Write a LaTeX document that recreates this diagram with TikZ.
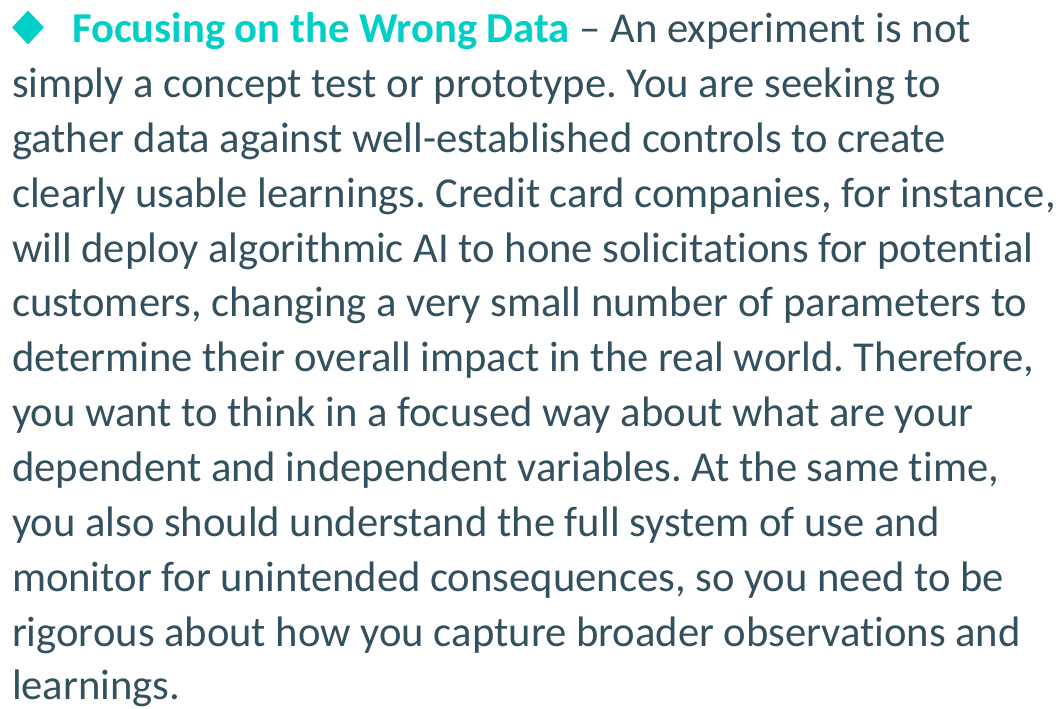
\documentclass[tikz,border=0pt]{standalone}
\usepackage{fontspec}
\setmainfont{Carlito}[Ligatures=NoCommon]
\usetikzlibrary{shapes.geometric}
\definecolor{teal}{HTML}{00CFC8}
\definecolor{body}{HTML}{33505F}
\tikzset{
  line/.style={anchor=base west, inner sep=0pt, outer sep=0pt, text=body, font=\fontsize{42.8}{54}\selectfont},
  bullet/.style={diamond, fill=teal, inner sep=0pt, minimum width=32bp, minimum height=34bp}
}
\frenchspacing
\begin{document}
\begin{tikzpicture}[x=1bp,y=1bp]
\useasboundingbox (0,0) rectangle (1059,709);
\node[bullet] (d) at (28,681.5) {};
\node[line] (l1) at (72,666.5) {\textcolor{teal}{\textbf{Focusing on the Wrong Data}} -- An experiment is not};
\node[line] (l2) at (12,611.6) {simply a concept test or prototype. You are seeking to};
\node[line] (l3) at (12,556.7) {gather data against well-established controls to create};
\node[line] (l4) at (12,501.8) {clearly usable learnings. Credit card companies, for instance,};
\node[line] (l5) at (12,446.9) {will deploy algorithmic AI to hone solicitations for potential};
\node[line] (l6) at (12,392.0) {customers, changing a very small number of parameters to};
\node[line] (l7) at (12,337.1) {determine their overall impact in the real world. Therefore,};
\node[line] (l8) at (12,282.2) {you want to think in a focused way about what are your};
\node[line] (l9) at (12,227.3) {dependent and independent variables. At the same time,};
\node[line] (l10) at (12,172.4) {you also should understand the full system of use and};
\node[line] (l11) at (12,117.5) {monitor for unintended consequences, so you need to be};
\node[line] (l12) at (12,62.6) {rigorous about how you capture broader observations and};
\node[line] (l13) at (12,9) {learnings.};
\end{tikzpicture}
\end{document}
